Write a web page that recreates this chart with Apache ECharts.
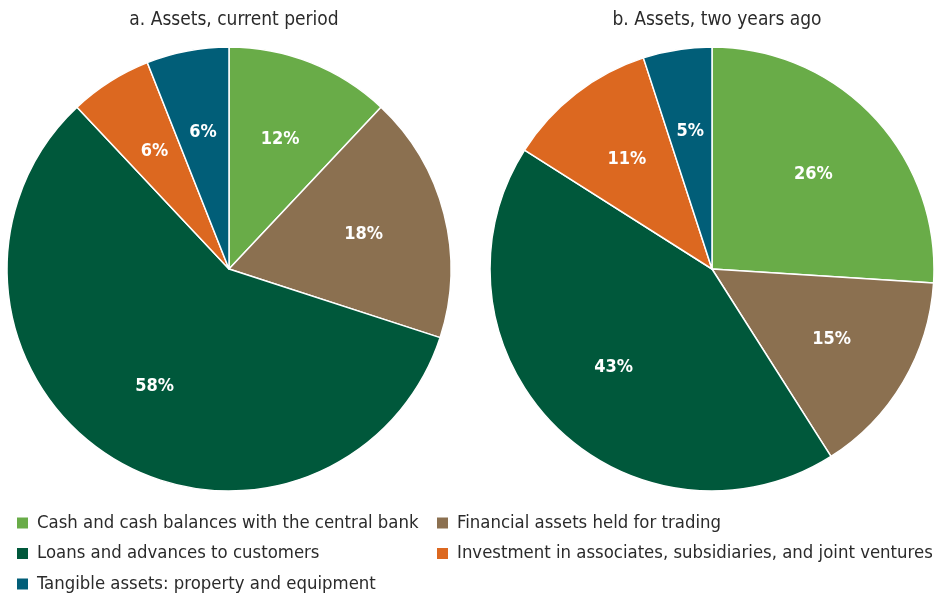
<!DOCTYPE html>
<html>
<head>
<meta charset="utf-8">
<script src="https://cdn.jsdelivr.net/npm/echarts@6/dist/echarts.min.js"></script>
<style>
  html, body { margin: 0; padding: 0; background: #fff; }
  #chart { width: 935px; height: 596px; }
</style>
</head>
<body>
<div id="chart"></div>
<script>
// Asset composition categories, in clockwise order starting at 12 o'clock
const categories = [
  'Cash and cash balances with the central bank',
  'Financial assets held for trading',
  'Loans and advances to customers',
  'Investment in associates, subsidiaries, and joint ventures',
  'Tangible assets: property and equipment'
];
// Share of total assets, percent
const currentPeriod = [12, 18, 58, 6, 6];
const twoYearsAgo = [26, 15, 43, 11, 5];
const panelTitles = ['a. Assets, current period', 'b. Assets, two years ago'];

const colors = ['#69AC48', '#8B7050', '#00583B', '#DC6820', '#015E78'];
const FONT = '"Liberation Sans Narrow", "DejaVu Sans Condensed", "Roboto Condensed", sans-serif';
const TEXT = '#2b2b2b';

const chart = echarts.init(document.getElementById('chart'));

function toData(values) {
  return values.map((v, i) => ({ name: categories[i], value: v }));
}

const centers = [[229, 269], [712, 269]];
const R = 222;

function pieSeries(values, center) {
  return [
    {
      type: 'pie',
      center: center,
      radius: [0, R],
      startAngle: 90,
      clockwise: true,
      animation: false,
      silent: true,
      label: { show: false },
      labelLine: { show: false },
      itemStyle: { borderColor: '#ffffff', borderWidth: 1.5 },
      data: toData(values)
    },
    {
      // transparent ring carrying the percentage labels
      type: 'pie',
      center: center,
      radius: [50, R],
      startAngle: 90,
      clockwise: true,
      animation: false,
      silent: true,
      legendHoverLink: false,
      itemStyle: { color: 'rgba(0,0,0,0)', borderWidth: 0 },
      label: {
        show: true,
        position: 'inside',
        formatter: '{c}%',
        color: '#ffffff',
        fontFamily: FONT,
        fontWeight: 'bold',
        fontSize: 18
      },
      labelLine: { show: false },
      data: values.map((v, i) => ({ name: categories[i] + ' ', value: v }))
    }
  ];
}

const legendBase = {
  orient: 'vertical',
  top: 514,
  height: 82,
  padding: 0,
  itemWidth: 13,
  itemHeight: 13,
  itemGap: 12.5,
  icon: 'rect',
  selectedMode: false,
  textStyle: { fontFamily: FONT, fontSize: 18.4, lineHeight: 18, color: TEXT, padding: [0, 0, 0, 3] }
};

chart.setOption({
  backgroundColor: '#ffffff',
  color: colors,
  title: panelTitles.map((t, i) => ({
    text: t,
    left: centers[i][0],
    top: 6,
    textAlign: 'center',
    textStyle: { fontFamily: FONT, fontSize: 19, fontWeight: 'normal', color: TEXT }
  })),
  legend: [
    Object.assign({}, legendBase, { left: 15, data: [categories[0], categories[2], categories[4]] }),
    Object.assign({}, legendBase, { left: 435, data: [categories[1], categories[3]] })
  ],
  series: [
    ...pieSeries(currentPeriod, centers[0]),
    ...pieSeries(twoYearsAgo, centers[1])
  ]
});
</script>
</body>
</html>
